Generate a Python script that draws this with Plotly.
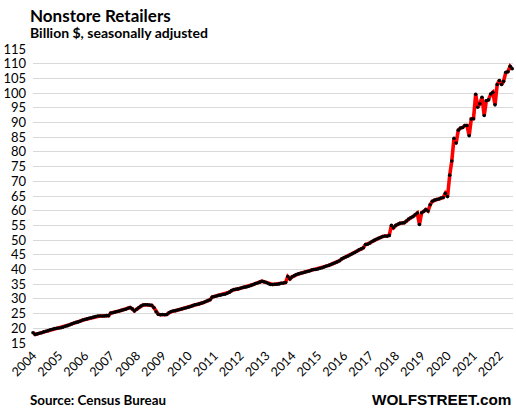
import pandas as pd
import plotly.graph_objects as go

# Monthly nonstore retail sales, billion $, Jan 2004 - Jul 2022
v2004 = [18.5, 17.9, 18.1, 18.3, 18.5, 18.8, 19.0, 19.2, 19.5, 19.7, 19.9, 20.0]
v2005 = [20.1, 20.2, 20.4, 20.7, 20.9, 21.2, 21.5, 21.8, 22.0, 22.2, 22.5, 22.8]
v2006 = [23.0, 23.2, 23.4, 23.6, 23.8, 24.0, 24.2, 24.2, 24.2, 24.2, 24.3, 24.3]
v2007 = [25.2, 25.3, 25.5, 25.7, 25.9, 26.1, 26.3, 26.5, 26.8, 27.1, 26.6, 25.9]
v2008 = [26.5, 27.1, 27.6, 27.9, 28.0, 28.0, 27.9, 27.8, 27.0, 25.6, 24.8, 24.6]
v2009 = [24.7, 24.6, 24.7, 25.3, 25.7, 25.9, 26.0, 26.2, 26.4, 26.6, 26.8, 27.0]
v2010 = [27.2, 27.4, 27.7, 28.0, 28.1, 28.3, 28.5, 28.8, 29.1, 29.4, 29.7, 30.6]
v2011 = [30.8, 31.0, 31.2, 31.3, 31.5, 31.6, 31.9, 32.3, 32.8, 33.2, 33.3, 33.4]
v2012 = [33.6, 33.9, 34.0, 34.1, 34.3, 34.6, 34.9, 35.2, 35.4, 35.7, 36.0, 35.8]
v2013 = [35.6, 35.2, 34.9, 34.9, 35.0, 35.0, 35.1, 35.3, 35.4, 35.6, 37.6, 36.8]
v2014 = [37.5, 37.9, 38.3, 38.5, 38.7, 38.9, 39.1, 39.3, 39.5, 39.8, 40.0, 40.0]
v2015 = [40.2, 40.4, 40.6, 40.9, 41.2, 41.4, 41.7, 42.0, 42.3, 42.6, 43.0, 43.6]
v2016 = [44.0, 44.3, 44.6, 45.0, 45.4, 45.8, 46.2, 46.7, 47.0, 47.4, 48.5, 48.6]
v2017 = [49.0, 49.5, 49.9, 50.3, 50.6, 50.9, 51.2, 51.4, 51.3, 51.6, 55.0, 54.2]
v2018 = [55.0, 55.4, 55.7, 55.8, 55.9, 56.5, 57.2, 57.6, 58.0, 58.6, 59.2, 55.3]
v2019 = [59.3, 59.8, 60.4, 59.9, 62.0, 63.2, 63.6, 63.8, 64.0, 64.3, 64.5, 65.9]
v2020 = [64.8, 72.1, 76.9, 84.6, 83.0, 87.4, 88.1, 88.3, 89.0, 89.0, 85.5, 91.2]
v2021 = [91.3, 99.6, 95.2, 96.4, 98.6, 92.4, 97.4, 97.7, 99.7, 100.3, 96.0, 102.9]
v2022 = [104.3, 102.9, 104.0, 107.0, 107.3, 109.1, 108.3]

values = (v2004 + v2005 + v2006 + v2007 + v2008 + v2009 + v2010 + v2011 + v2012
          + v2013 + v2014 + v2015 + v2016 + v2017 + v2018 + v2019 + v2020 + v2021 + v2022)
dates = pd.date_range("2004-01-01", periods=len(values), freq="MS")

year_ticks = [f"{y}-01-01" for y in range(2004, 2023)]
year_labels = [str(y) for y in range(2004, 2023)]
y_ticks = list(range(15, 116, 5))

FONT = "Lato"
W, H = 516, 415
ML, MR, MT, MB = 33, 3, 49, 72

fig = go.Figure()
fig.add_trace(go.Scatter(
    x=dates, y=values, mode="lines+markers",
    line=dict(color="#ff0000", width=3.6),
    marker=dict(color="#000000", size=3.6),
    cliponaxis=False,
))

fig.update_layout(
    width=W, height=H,
    margin=dict(l=ML, r=MR, t=MT, b=MB, autoexpand=False),
    paper_bgcolor="white", plot_bgcolor="white",
    showlegend=False,
    font=dict(family=FONT, color="#000000"),
    xaxis=dict(
        range=["2004-01-01", "2022-07-12"],
        tickvals=year_ticks, ticktext=year_labels,
        tickangle=-45, tickfont=dict(size=12.5, color="#000000", family=FONT),
        showgrid=False, showline=False, zeroline=False,
        ticks="", ticklabelstandoff=2, automargin=False,
    ),
    yaxis=dict(
        range=[15, 115], tickvals=y_ticks,
        tickfont=dict(size=13, color="#000000", family=FONT),
        showgrid=True, gridcolor="#d9d9d9", gridwidth=1,
        showline=False, zeroline=False, ticks="", ticklabelstandoff=6,
        automargin=False,
    ),
)

# (text, figure-pixel x, figure-pixel y, size, anchor, family)
texts = [
    ("Nonstore Retailers", 17, 15, 17, "left", FONT),
    ("Billion $, seasonally adjusted", 17, 32, 14, "left", FONT),
    ("Source: Census Bureau", 17, 400, 13.4, "left", FONT),
    ("WOLFSTREET.com", 513, 400, 15.3, "right", "Liberation Sans"),
]
for t, x, y, s, anchor, fam in texts:
    fig.add_annotation(text=t, x=(x - ML) / (W - ML - MR), y=(H - MB - y) / (H - MT - MB),
                       xref="paper", yref="paper", xshift=11 if anchor == "left" else 0,
                       showarrow=False, xanchor=anchor, yanchor="middle",
                       font=dict(size=s, color="#000000", family=fam, weight="bold"))

fig.write_html("out.html", config={"displayModeBar": False},
               post_script="document.body.style.margin='0';")
